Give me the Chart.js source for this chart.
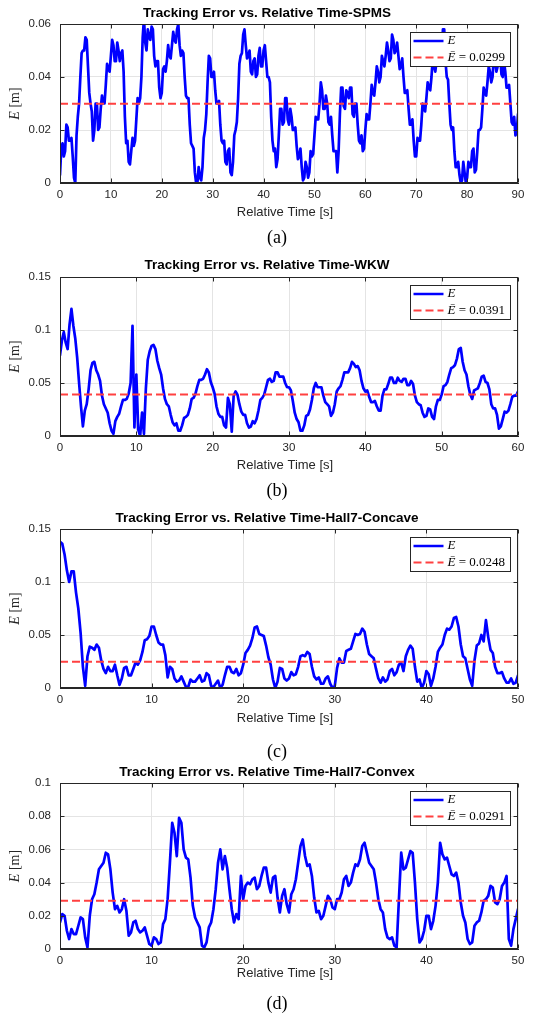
<!DOCTYPE html>
<html>
<head>
<meta charset="utf-8">
<script src="https://cdn.jsdelivr.net/npm/chart.js@4.4.1/dist/chart.umd.min.js"></script>
<style>
  html, body { margin: 0; padding: 0; background: #fff; }
  #wrap { position: relative; width: 533px; height: 1021px; }
  canvas { position: absolute; left: 0; }
</style>
</head>
<body>
<div id="wrap">
  <canvas id="chartA" width="533" height="252" style="top:0px"></canvas>
  <canvas id="chartB" width="533" height="253" style="top:252px"></canvas>
  <canvas id="chartC" width="533" height="260" style="top:505px"></canvas>
  <canvas id="chartD" width="533" height="263" style="top:758px"></canvas>
</div>
<script>
// every series is sampled every quarter second (20 values = 5 s per row)
const sampleStep = 0.25;

// (a) SPMS, 0..90 s
const errA = [
  0.003, 0.013, 0.015, 0.010, 0.012, 0.022, 0.021, 0.016, 0.016, 0.017, 0.010, 0.002, 0.000, 0.018, 0.025, 0.030, 0.040, 0.049, 0.050, 0.050,
  0.055, 0.054, 0.044, 0.034, 0.030, 0.027, 0.016, 0.020, 0.030, 0.030, 0.020, 0.021, 0.028, 0.033, 0.030, 0.030, 0.037, 0.045, 0.043, 0.042,
  0.048, 0.054, 0.052, 0.046, 0.046, 0.053, 0.050, 0.046, 0.049, 0.050, 0.042, 0.025, 0.015, 0.016, 0.008, 0.007, 0.012, 0.017, 0.014, 0.016,
  0.024, 0.032, 0.030, 0.032, 0.040, 0.055, 0.062, 0.053, 0.050, 0.058, 0.055, 0.054, 0.059, 0.058, 0.048, 0.044, 0.046, 0.046, 0.036, 0.032,
  0.034, 0.043, 0.044, 0.042, 0.046, 0.052, 0.048, 0.047, 0.052, 0.057, 0.054, 0.053, 0.058, 0.060, 0.052, 0.048, 0.050, 0.049, 0.040, 0.033,
  0.032, 0.032, 0.022, 0.015, 0.014, 0.013, 0.004, 0.000, 0.000, 0.006, 0.002, 0.001, 0.006, 0.017, 0.020, 0.026, 0.038, 0.048, 0.047, 0.040,
  0.040, 0.042, 0.035, 0.030, 0.030, 0.031, 0.022, 0.016, 0.015, 0.016, 0.008, 0.007, 0.012, 0.013, 0.004, 0.003, 0.008, 0.018, 0.020, 0.023,
  0.032, 0.045, 0.048, 0.049, 0.056, 0.058, 0.052, 0.047, 0.048, 0.050, 0.042, 0.041, 0.046, 0.047, 0.040, 0.041, 0.048, 0.051, 0.044, 0.044,
  0.050, 0.052, 0.046, 0.040, 0.040, 0.038, 0.025, 0.016, 0.012, 0.013, 0.006, 0.009, 0.018, 0.028, 0.028, 0.022, 0.023, 0.032, 0.032, 0.024,
  0.022, 0.028, 0.025, 0.020, 0.020, 0.021, 0.014, 0.009, 0.010, 0.013, 0.006, 0.001, 0.002, 0.008, 0.006, 0.002, 0.004, 0.012, 0.010, 0.011,
  0.018, 0.025, 0.024, 0.024, 0.030, 0.038, 0.035, 0.028, 0.028, 0.033, 0.030, 0.023, 0.022, 0.025, 0.018, 0.012, 0.012, 0.012, 0.004, 0.012,
  0.026, 0.036, 0.036, 0.029, 0.028, 0.035, 0.034, 0.032, 0.036, 0.036, 0.026, 0.025, 0.030, 0.030, 0.022, 0.016, 0.015, 0.018, 0.012, 0.013,
  0.020, 0.026, 0.024, 0.024, 0.030, 0.037, 0.034, 0.033, 0.038, 0.044, 0.042, 0.038, 0.040, 0.048, 0.046, 0.044, 0.048, 0.053, 0.050, 0.046,
  0.047, 0.056, 0.054, 0.049, 0.050, 0.053, 0.048, 0.043, 0.044, 0.047, 0.040, 0.034, 0.034, 0.035, 0.028, 0.022, 0.022, 0.024, 0.016, 0.010,
  0.010, 0.017, 0.016, 0.016, 0.022, 0.030, 0.028, 0.027, 0.032, 0.038, 0.036, 0.035, 0.040, 0.047, 0.044, 0.042, 0.046, 0.052, 0.050, 0.046,
  0.048, 0.058, 0.058, 0.046, 0.040, 0.039, 0.030, 0.022, 0.020, 0.021, 0.012, 0.006, 0.006, 0.008, 0.003, 0.000, 0.001, 0.008, 0.004, 0.000,
  0.002, 0.008, 0.006, 0.006, 0.012, 0.013, 0.004, 0.005, 0.012, 0.020, 0.020, 0.021, 0.028, 0.036, 0.034, 0.033, 0.038, 0.044, 0.042, 0.038,
  0.040, 0.048, 0.046, 0.042, 0.044, 0.050, 0.048, 0.041, 0.040, 0.046, 0.042, 0.036, 0.036, 0.037, 0.030, 0.023, 0.022, 0.025, 0.018, 0.019,
  0.026
];
const meanA = 0.0299;

// (b) WKW, 0..60 s
const errB = [
  0.076, 0.090, 0.098, 0.088, 0.082, 0.105, 0.120, 0.104, 0.092, 0.074, 0.050, 0.028, 0.009, 0.024, 0.030, 0.044, 0.062, 0.069, 0.070, 0.062,
  0.058, 0.052, 0.038, 0.030, 0.026, 0.022, 0.012, 0.005, 0.002, 0.014, 0.018, 0.021, 0.028, 0.034, 0.034, 0.035, 0.040, 0.050, 0.104, 0.008,
  0.058, 0.006, 0.000, 0.022, 0.002, 0.045, 0.072, 0.080, 0.085, 0.086, 0.082, 0.071, 0.064, 0.058, 0.045, 0.035, 0.030, 0.028, 0.020, 0.013,
  0.010, 0.012, 0.005, 0.005, 0.010, 0.017, 0.018, 0.020, 0.026, 0.035, 0.036, 0.040, 0.047, 0.053, 0.053, 0.054, 0.058, 0.063, 0.060, 0.051,
  0.046, 0.040, 0.028, 0.021, 0.018, 0.018, 0.010, 0.008, 0.036, 0.030, 0.004, 0.038, 0.042, 0.039, 0.030, 0.023, 0.020, 0.020, 0.012, 0.008,
  0.009, 0.014, 0.012, 0.016, 0.024, 0.034, 0.036, 0.039, 0.046, 0.053, 0.054, 0.051, 0.052, 0.060, 0.060, 0.056, 0.056, 0.056, 0.050, 0.046,
  0.046, 0.043, 0.033, 0.022, 0.016, 0.013, 0.005, 0.005, 0.010, 0.019, 0.020, 0.025, 0.034, 0.045, 0.050, 0.046, 0.046, 0.046, 0.038, 0.032,
  0.030, 0.028, 0.019, 0.022, 0.030, 0.042, 0.045, 0.047, 0.053, 0.060, 0.060, 0.060, 0.064, 0.070, 0.068, 0.065, 0.066, 0.062, 0.052, 0.045,
  0.042, 0.043, 0.037, 0.032, 0.032, 0.033, 0.028, 0.024, 0.024, 0.038, 0.044, 0.044, 0.049, 0.055, 0.055, 0.050, 0.050, 0.055, 0.052, 0.051,
  0.054, 0.054, 0.048, 0.048, 0.052, 0.049, 0.038, 0.032, 0.030, 0.029, 0.022, 0.018, 0.019, 0.026, 0.025, 0.018, 0.016, 0.028, 0.034, 0.034,
  0.039, 0.047, 0.048, 0.051, 0.058, 0.064, 0.065, 0.067, 0.073, 0.082, 0.083, 0.070, 0.062, 0.058, 0.047, 0.039, 0.035, 0.043, 0.044, 0.045,
  0.050, 0.056, 0.057, 0.051, 0.050, 0.044, 0.030, 0.026, 0.026, 0.020, 0.007, 0.009, 0.016, 0.023, 0.022, 0.024, 0.030, 0.037, 0.038, 0.038,
  0.042
];
const meanB = 0.0391;

// (c) Hall7-Concave, 0..50 s
const errC = [
  0.138, 0.136, 0.126, 0.111, 0.100, 0.110, 0.110, 0.090, 0.075, 0.052, 0.020, 0.002, 0.030, 0.039, 0.038, 0.036, 0.041, 0.038, 0.026, 0.018,
  0.014, 0.020, 0.016, 0.016, 0.022, 0.012, 0.003, 0.009, 0.019, 0.020, 0.012, 0.012, 0.018, 0.024, 0.022, 0.026, 0.034, 0.045, 0.046, 0.049,
  0.058, 0.058, 0.050, 0.043, 0.041, 0.041, 0.031, 0.010, 0.020, 0.018, 0.009, 0.006, 0.007, 0.011, 0.006, 0.001, 0.001, 0.008, 0.006, 0.006,
  0.009, 0.012, 0.006, 0.007, 0.014, 0.012, 0.002, 0.001, 0.004, 0.007, 0.000, 0.003, 0.012, 0.020, 0.020, 0.015, 0.014, 0.018, 0.012, 0.014,
  0.022, 0.033, 0.036, 0.040, 0.047, 0.057, 0.058, 0.051, 0.050, 0.049, 0.040, 0.029, 0.022, 0.008, 0.000, 0.006, 0.019, 0.018, 0.009, 0.007,
  0.009, 0.015, 0.012, 0.013, 0.020, 0.030, 0.031, 0.030, 0.034, 0.032, 0.020, 0.011, 0.008, 0.010, 0.004, 0.004, 0.009, 0.011, 0.004, 0.000,
  0.002, 0.019, 0.028, 0.024, 0.024, 0.035, 0.036, 0.037, 0.044, 0.051, 0.050, 0.051, 0.056, 0.053, 0.041, 0.032, 0.030, 0.028, 0.018, 0.009,
  0.005, 0.010, 0.006, 0.008, 0.016, 0.018, 0.012, 0.015, 0.022, 0.024, 0.016, 0.030, 0.036, 0.040, 0.037, 0.020, 0.006, 0.008, 0.000, 0.005,
  0.016, 0.013, 0.002, 0.009, 0.020, 0.034, 0.038, 0.041, 0.050, 0.056, 0.055, 0.058, 0.066, 0.067, 0.058, 0.041, 0.030, 0.028, 0.018, 0.008,
  0.002, 0.026, 0.040, 0.042, 0.050, 0.044, 0.064, 0.048, 0.036, 0.033, 0.020, 0.014, 0.014, 0.015, 0.009, 0.005, 0.005, 0.009, 0.004, 0.005,
  0.012
];
const meanC = 0.0248;

// (d) Hall7-Convex, 0..50 s
const errD = [
  0.016, 0.021, 0.020, 0.011, 0.006, 0.012, 0.009, 0.009, 0.014, 0.019, 0.018, 0.007, 0.001, 0.020, 0.030, 0.033, 0.040, 0.048, 0.050, 0.052,
  0.058, 0.057, 0.048, 0.034, 0.024, 0.026, 0.022, 0.024, 0.030, 0.023, 0.008, 0.010, 0.016, 0.017, 0.012, 0.010, 0.011, 0.013, 0.008, 0.003,
  0.002, 0.007, 0.006, 0.003, 0.004, 0.015, 0.018, 0.030, 0.052, 0.076, 0.070, 0.056, 0.079, 0.076, 0.060, 0.055, 0.054, 0.043, 0.026, 0.019,
  0.016, 0.013, 0.002, 0.001, 0.004, 0.013, 0.016, 0.024, 0.036, 0.052, 0.060, 0.048, 0.056, 0.049, 0.036, 0.024, 0.016, 0.021, 0.018, 0.044,
  0.030, 0.038, 0.040, 0.039, 0.042, 0.043, 0.036, 0.038, 0.044, 0.049, 0.049, 0.040, 0.034, 0.043, 0.044, 0.031, 0.022, 0.032, 0.036, 0.027,
  0.022, 0.033, 0.036, 0.042, 0.052, 0.062, 0.066, 0.056, 0.050, 0.051, 0.044, 0.031, 0.022, 0.023, 0.018, 0.020, 0.026, 0.032, 0.030, 0.025,
  0.024, 0.030, 0.030, 0.034, 0.042, 0.044, 0.038, 0.040, 0.046, 0.051, 0.050, 0.054, 0.062, 0.064, 0.058, 0.052, 0.050, 0.048, 0.040, 0.030,
  0.024, 0.022, 0.012, 0.007, 0.006, 0.007, 0.002, 0.001, 0.030, 0.058, 0.048, 0.049, 0.054, 0.059, 0.058, 0.040, 0.018, 0.004, 0.006, 0.011,
  0.020, 0.020, 0.012, 0.017, 0.026, 0.040, 0.064, 0.057, 0.054, 0.055, 0.050, 0.045, 0.044, 0.046, 0.040, 0.028, 0.020, 0.016, 0.006, 0.003,
  0.004, 0.014, 0.016, 0.017, 0.022, 0.029, 0.030, 0.032, 0.038, 0.037, 0.028, 0.027, 0.030, 0.038, 0.040, 0.044, 0.006, 0.002, 0.012, 0.018,
  0.024
];
const meanD = 0.0291;

const BLUE = '#0000ff';
const RED = '#ff4040';
const AXIS = '#262626';

// matlab style extras: full box, inner ticks, labels and the legend box
const matlabLook = {
  id: 'matlabLook',
  afterDraw(chart, args, o) {
    const ctx = chart.ctx;
    const a = chart.chartArea;
    const xs = chart.scales.x, ys = chart.scales.y;
    const L = Math.round(a.left) + 0.5, R = Math.round(a.right) - 0.5;
    const T = Math.round(a.top) + 0.5, B = Math.round(a.bottom) - 0.5;
    ctx.save();

    ctx.strokeStyle = AXIS;
    ctx.lineWidth = 1;
    ctx.strokeRect(L, T, R - L, B - T);
    ctx.beginPath();
    xs.ticks.forEach(t => {
      const px = Math.round(xs.getPixelForValue(t.value)) + 0.5;
      ctx.moveTo(px, B); ctx.lineTo(px, B - 4);
      ctx.moveTo(px, T); ctx.lineTo(px, T + 4);
    });
    ys.ticks.forEach(t => {
      const py = Math.round(ys.getPixelForValue(t.value)) + 0.5;
      ctx.moveTo(L, py); ctx.lineTo(L + 4, py);
      ctx.moveTo(R, py); ctx.lineTo(R - 4, py);
    });
    ctx.stroke();

    ctx.textAlign = 'center';
    ctx.textBaseline = 'middle';
    ctx.fillStyle = '#000';
    ctx.font = 'bold 13.5px "Liberation Sans"';
    ctx.fillText(o.title, 267, o.titleY);

    ctx.fillStyle = AXIS;
    ctx.font = '13px "Liberation Sans"';
    ctx.fillText('Relative Time [s]', 285, o.xLabelY);

    ctx.fillStyle = '#000';
    ctx.font = '18px "Liberation Serif"';
    ctx.fillText(o.caption, 277, o.captionY);

    // y label: italic E, upright [m]
    ctx.save();
    ctx.translate(15, (a.top + a.bottom) / 2);
    ctx.rotate(-Math.PI / 2);
    ctx.textAlign = 'left';
    ctx.fillStyle = AXIS;
    ctx.font = 'italic 14px "Liberation Serif"';
    const w1 = ctx.measureText('E').width;
    ctx.font = '14px "Liberation Serif"';
    const w2 = ctx.measureText(' [m]').width;
    const x0 = -(w1 + w2) / 2;
    ctx.font = 'italic 14px "Liberation Serif"';
    ctx.fillText('E', x0, 0);
    ctx.font = '14px "Liberation Serif"';
    ctx.fillText(' [m]', x0 + w1, 0);
    ctx.restore();

    // legend
    const bw = 100, bh = 34;
    const bx = Math.round(a.right) - 108 + 0.5, by = Math.round(a.top) + 8 + 0.5;
    ctx.fillStyle = '#fff';
    ctx.fillRect(bx, by, bw, bh);
    ctx.strokeStyle = AXIS;
    ctx.lineWidth = 1;
    ctx.strokeRect(bx, by, bw, bh);

    const r1 = by + 8.5, r2 = by + 25;
    ctx.strokeStyle = BLUE;
    ctx.lineWidth = 2.5;
    ctx.beginPath(); ctx.moveTo(bx + 3, r1); ctx.lineTo(bx + 33, r1); ctx.stroke();
    ctx.strokeStyle = RED;
    ctx.lineWidth = 2;
    ctx.setLineDash([8, 4]);
    ctx.beginPath(); ctx.moveTo(bx + 3, r2); ctx.lineTo(bx + 33, r2); ctx.stroke();
    ctx.setLineDash([]);

    ctx.fillStyle = '#000';
    ctx.textAlign = 'left';
    ctx.font = 'italic 13px "Liberation Serif"';
    ctx.fillText('E', bx + 37, r1);
    ctx.fillText('\u0112', bx + 37, r2);
    const we = ctx.measureText('\u0112').width;
    ctx.font = '13px "Liberation Serif"';
    ctx.fillText(' = ' + o.meanText, bx + 37 + we, r2);

    ctx.restore();
  }
};

function makeChart(id, p) {
  const pts = p.values.map((v, i) => ({ x: i * sampleStep, y: v }));
  const tickFont = { family: 'Liberation Sans', size: 11.5 };
  return new Chart(document.getElementById(id), {
    type: 'line',
    data: {
      datasets: [
        { label: 'E', data: pts, borderColor: BLUE, borderWidth: 2.7,
          borderJoinStyle: 'round', borderCapStyle: 'round',
          pointRadius: 0, tension: 0, order: 1 },
        { label: 'mean', data: [{ x: 0, y: p.mean }, { x: p.xMax, y: p.mean }],
          borderColor: RED, borderWidth: 2, borderDash: [8, 4],
          pointRadius: 0, order: 0 }
      ]
    },
    options: {
      responsive: false,
      animation: false,
      devicePixelRatio: 1,
      events: [],
      layout: { padding: { left: 0, right: 15, top: p.padTop, bottom: 0 } },
      scales: {
        x: {
          type: 'linear', min: 0, max: p.xMax,
          ticks: { stepSize: 10, color: AXIS, font: tickFont, padding: 5, maxRotation: 0, autoSkip: false },
          grid: { color: '#e4e4e4', drawTicks: false },
          border: { color: AXIS },
          afterFit: s => { s.height = p.xAxisH; }
        },
        y: {
          min: 0, max: p.yMax,
          ticks: { stepSize: p.yStep, color: AXIS, font: tickFont, padding: 9,
                   callback: v => String(+v.toFixed(3)) },
          grid: { color: '#e4e4e4', drawTicks: false },
          border: { color: AXIS },
          afterFit: s => { s.width = 60; }
        }
      },
      plugins: {
        legend: { display: false },
        tooltip: { enabled: false },
        matlabLook: {
          title: p.title, caption: p.caption, meanText: p.meanText,
          titleY: p.titleY, xLabelY: p.xLabelY, captionY: p.captionY
        }
      }
    },
    plugins: [matlabLook]
  });
}

makeChart('chartA', {
  values: errA, mean: meanA, meanText: '0.0299', xMax: 90, yMax: 0.06, yStep: 0.02,
  title: 'Tracking Error vs. Relative Time-SPMS', caption: '(a)',
  padTop: 24, xAxisH: 69, titleY: 13, xLabelY: 212, captionY: 238
});
makeChart('chartB', {
  values: errB, mean: meanB, meanText: '0.0391', xMax: 60, yMax: 0.15, yStep: 0.05,
  title: 'Tracking Error vs. Relative Time-WKW', caption: '(b)',
  padTop: 25, xAxisH: 69, titleY: 13, xLabelY: 213, captionY: 239
});
makeChart('chartC', {
  values: errC, mean: meanC, meanText: '0.0248', xMax: 50, yMax: 0.15, yStep: 0.05,
  title: 'Tracking Error vs. Relative Time-Hall7-Concave', caption: '(c)',
  padTop: 24, xAxisH: 77, titleY: 13, xLabelY: 213, captionY: 247
});
makeChart('chartD', {
  values: errD, mean: meanD, meanText: '0.0291', xMax: 50, yMax: 0.1, yStep: 0.02,
  title: 'Tracking Error vs. Relative Time-Hall7-Convex', caption: '(d)',
  padTop: 25, xAxisH: 72, titleY: 14, xLabelY: 215, captionY: 246
});
</script>
</body>
</html>
